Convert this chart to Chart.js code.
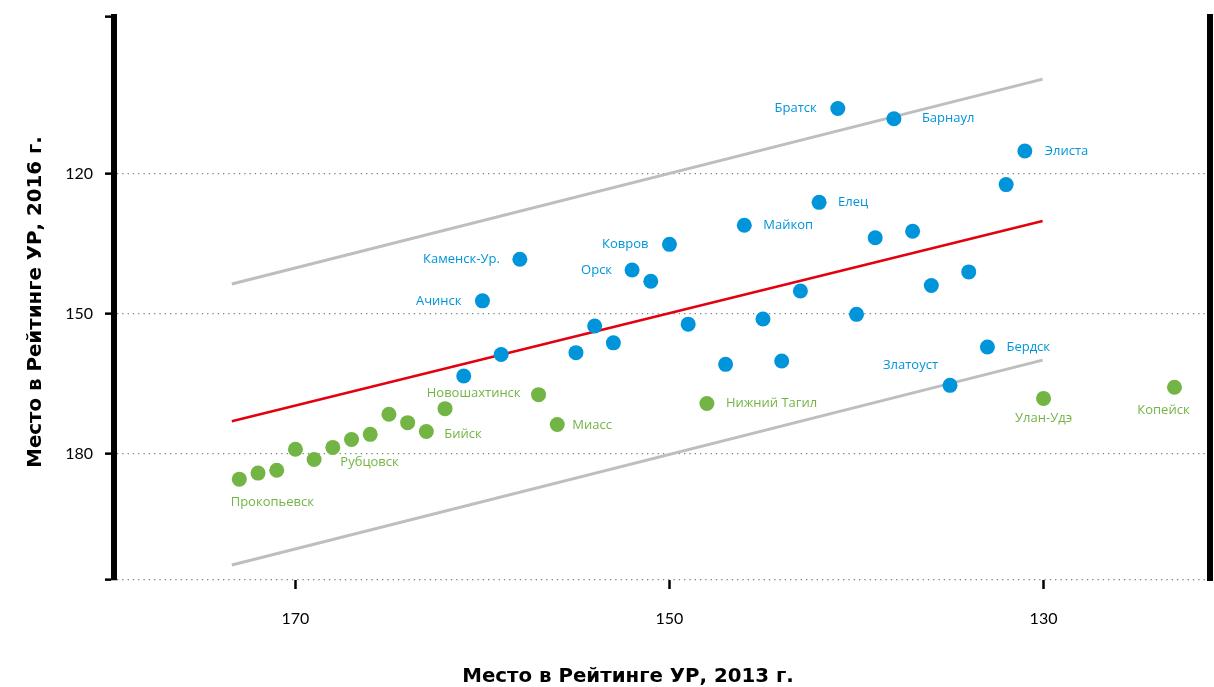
<!DOCTYPE html>
<html>
<head>
<meta charset="utf-8">
<script src="https://cdn.jsdelivr.net/npm/chart.js@4.4.0/dist/chart.umd.min.js"></script>
<style>
  html, body { margin: 0; padding: 0; background: #fff; }
  #wrap { width: 1214px; height: 687px; position: relative; }
</style>
</head>
<body>
<div id="wrap"><canvas id="chart"></canvas></div>
<script>
// Место в рейтинге: 2013 г. (x) и 2016 г. (y)
const blueNames = ['Братск', 'Барнаул', 'Элиста', '', 'Елец', 'Майкоп', '', '', 'Ковров', 'Каменск-Ур.',
  'Орск', '', '', '', '', 'Ачинск', '', '', '', '', '', '', '', '', '', 'Бердск', 'Златоуст', ''];
const blueX = [141, 138, 131, 132, 142, 146, 139, 137, 150, 158,
  152, 151, 134, 136, 143, 160, 140, 145, 149, 154, 153, 155, 159, 147, 144, 133, 135, 161];
const blueY = [106.1, 108.3, 115.2, 122.4, 126.2, 131.1, 133.8, 132.4, 135.2, 138.4,
  140.7, 143.1, 141.1, 144.0, 145.2, 147.3, 150.2, 151.2, 152.3, 152.7, 156.3, 158.4, 158.8, 160.9, 160.2, 157.2, 165.4, 163.4];

const greenNames = ['Прокопьевск', '', '', '', '', '', 'Рубцовск', '', '', '', 'Бийск', '',
  'Новошахтинск', 'Миасс', 'Нижний Тагил', 'Улан-Удэ', 'Копейск'];
const greenX = [173, 172, 171, 170, 169, 168, 167, 166, 165, 164, 163, 162, 157, 156, 148, 130, 123];
const greenY = [185.5, 184.2, 183.6, 179.1, 181.3, 178.7, 177.0, 175.9, 171.6, 173.4, 175.3, 170.4,
  167.4, 173.8, 169.3, 168.2, 165.8];

// линия тренда и коридор
const trendX = [173.4, 130.05];
const trendY = [173.1, 130.2];
const upperY = [143.7, 99.8];
const lowerY = [203.9, 160.0];

const xTicks = [170, 150, 130];
const yTicks = [120, 150, 180];
const X_MIN = 121.1, X_MAX = 179.7;
const Y_MIN = 86.5, Y_MAX = 207.1;

const BLUE = '#0095DA';
const GREEN = '#72B545';
const TITLE_FONT = 'bold 19.8px "DejaVu Sans"';

// где рисовать подпись относительно точки: [dx, dy, выравнивание]
const labelPlace = {
  'Братск': [-21, 0, 'right'],
  'Барнаул': [28, 0, 'left'],
  'Элиста': [20, 0, 'left'],
  'Елец': [19, 0, 'left'],
  'Майкоп': [19, 0, 'left'],
  'Ковров': [-21, 0, 'right'],
  'Каменск-Ур.': [-20, 0, 'right'],
  'Орск': [-20, 0, 'right'],
  'Ачинск': [-21, 0, 'right'],
  'Бердск': [19, 0, 'left'],
  'Златоуст': [-12, -20, 'right'],
  'Прокопьевск': [33, 23, 'center'],
  'Рубцовск': [18, 23, 'center'],
  'Бийск': [18, 3, 'left'],
  'Новошахтинск': [-18, -1, 'right'],
  'Миасс': [15, 1, 'left'],
  'Нижний Тагил': [19, 0, 'left'],
  'Улан-Удэ': [0, 20, 'center'],
  'Копейск': [-11, 23, 'center']
};

const pts = (xs, ys) => xs.map((x, i) => ({ x: x, y: ys[i] }));

const cityLabels = {
  id: 'cityLabels',
  afterDatasetsDraw(chart) {
    const ctx = chart.ctx;
    ctx.save();
    ctx.font = '13px "Open Sans"';
    ctx.textBaseline = 'middle';
    chart.data.datasets.forEach((ds, i) => {
      if (!ds.names) return;
      chart.getDatasetMeta(i).data.forEach((pt, j) => {
        const name = ds.names[j];
        if (!name) return;
        const [dx, dy, align] = labelPlace[name];
        ctx.fillStyle = ds.backgroundColor;
        ctx.textAlign = align;
        ctx.fillText(name, pt.x + dx, pt.y + dy);
      });
    });
    ctx.restore();
  }
};

// подписи осей
const axisTitles = {
  id: 'axisTitles',
  afterDraw(chart) {
    const ctx = chart.ctx;
    ctx.save();
    ctx.font = TITLE_FONT;
    ctx.fillStyle = '#000';
    ctx.textAlign = 'center';
    ctx.textBaseline = 'middle';
    ctx.fillText('Место в Рейтинге УР, 2013 г.', 628, 677);
    ctx.translate(36, 302);
    ctx.rotate(-Math.PI / 2);
    ctx.fillText('Место в Рейтинге УР, 2016 г.', 0, 0);
    ctx.restore();
  }
};

new Chart(document.getElementById('chart'), {
  type: 'scatter',
  data: {
    datasets: [
      { data: pts(blueX, blueY), names: blueNames, backgroundColor: BLUE, pointRadius: 7.5, pointHoverRadius: 7.5, borderWidth: 0 },
      { data: pts(greenX, greenY), names: greenNames, backgroundColor: GREEN, pointRadius: 7.5, pointHoverRadius: 7.5, borderWidth: 0 },
      { data: pts(trendX, trendY), showLine: true, borderColor: '#E3000F', borderWidth: 2.5, pointRadius: 0 },
      { data: pts(trendX, upperY), showLine: true, borderColor: '#BEBEBE', borderWidth: 3, pointRadius: 0 },
      { data: pts(trendX, lowerY), showLine: true, borderColor: '#BEBEBE', borderWidth: 3, pointRadius: 0 }
    ]
  },
  options: {
    responsive: true,
    maintainAspectRatio: false,
    animation: false,
    layout: { autoPadding: false, padding: { top: 17, right: 0, bottom: 0, left: 0 } },
    plugins: { legend: { display: false }, tooltip: { enabled: false } },
    scales: {
      x: {
        type: 'linear',
        reverse: true,
        min: X_MIN,
        max: X_MAX,
        afterBuildTicks: s => { s.ticks = xTicks.map(v => ({ value: v })); },
        afterFit: s => { s.height = 107; },
        border: { display: false },
        grid: { drawOnChartArea: false, drawTicks: true, tickLength: 9, tickColor: '#000', tickWidth: 2.5 },
        ticks: { color: '#000', font: { family: 'Lato', size: 16 }, padding: 20, maxRotation: 0 }
      },
      y: {
        type: 'linear',
        reverse: true,
        min: Y_MIN,
        max: Y_MAX,
        afterBuildTicks: s => { s.ticks = [Y_MIN, ...yTicks, Y_MAX].map(v => ({ value: v })); },
        afterFit: s => { s.width = 114; },
        border: { display: true, color: '#000', width: 6, dash: [1.3, 4] },
        grid: {
          color: c => (c.tick && c.tick.value === Y_MIN) ? 'rgba(0,0,0,0)' : '#808080',
          lineWidth: 1.3,
          drawTicks: true,
          tickLength: 9,
          tickColor: '#000',
          tickWidth: 2.5
        },
        ticks: {
          color: '#000',
          font: { family: 'Lato', size: 16, lineHeight: 0.5 },
          padding: 12,
          callback: v => yTicks.includes(v) ? String(v) : ''
        }
      },
      y2: {
        type: 'linear',
        position: 'right',
        afterFit: s => { s.width = 4; },
        border: { display: true, color: '#000', width: 6 },
        grid: { drawOnChartArea: false, drawTicks: false },
        ticks: { display: false }
      }
    }
  },
  plugins: [cityLabels, axisTitles]
});
</script>
</body>
</html>
